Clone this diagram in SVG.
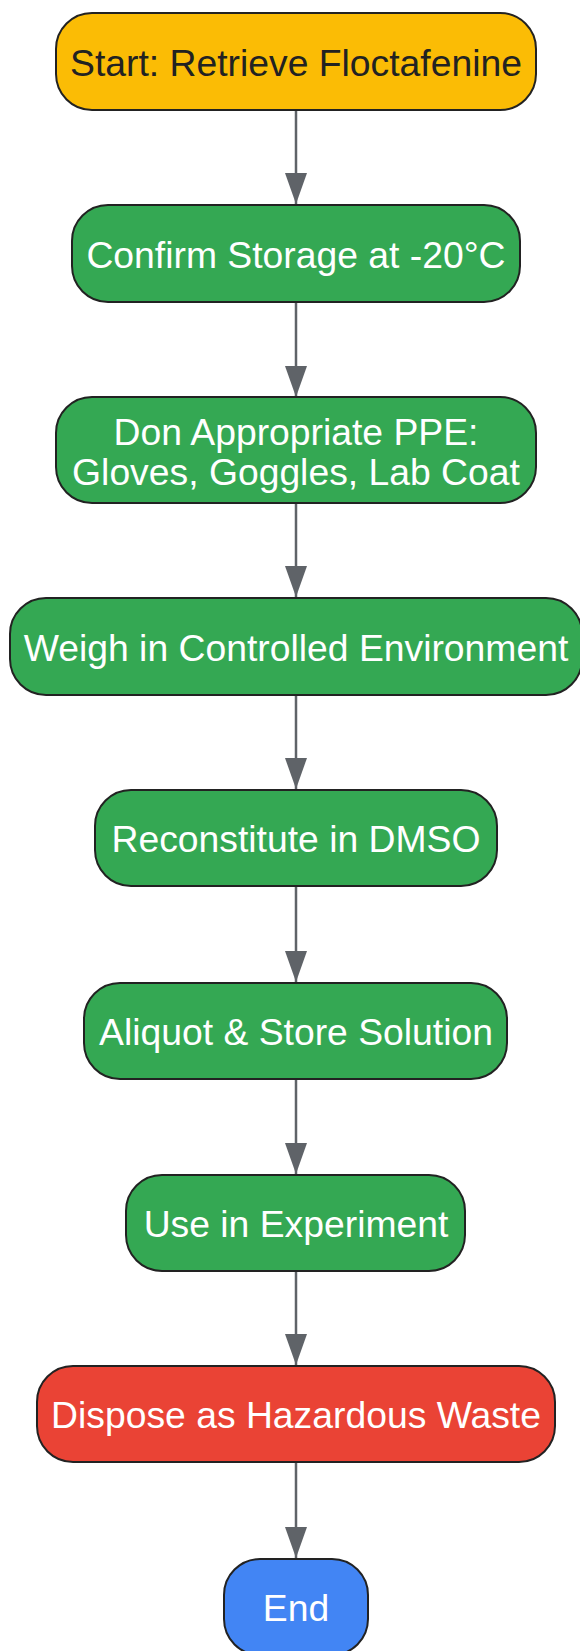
<svg xmlns="http://www.w3.org/2000/svg" width="580" height="1651" viewBox="0 0 580 1651">
<defs>
<style>
.n{stroke:#222222;stroke-width:2}
.t{font-family:"Liberation Sans",Arial,sans-serif;font-size:37.3px;text-anchor:middle;fill:#ffffff}
.dk{fill:#222222}
.e{stroke:#5f6368;stroke-width:2.5;fill:none}
</style>
<marker id="ah" markerWidth="31" markerHeight="22" refX="31" refY="11" orient="auto" markerUnits="userSpaceOnUse" viewBox="0 0 31 22">
<path d="M0,0 L31,11 L0,22 Z" fill="#5f6368"/>
</marker>
</defs>
<rect width="580" height="1651" fill="#ffffff"/>
<g id="connectors">
<line class="e" x1="296" y1="110" x2="296" y2="204" marker-end="url(#ah)"/>
<line class="e" x1="296" y1="302" x2="296" y2="397" marker-end="url(#ah)"/>
<line class="e" x1="296" y1="503" x2="296" y2="597" marker-end="url(#ah)"/>
<line class="e" x1="296" y1="695" x2="296" y2="789" marker-end="url(#ah)"/>
<line class="e" x1="296" y1="886" x2="296" y2="982" marker-end="url(#ah)"/>
<line class="e" x1="296" y1="1079" x2="296" y2="1174" marker-end="url(#ah)"/>
<line class="e" x1="296" y1="1271" x2="296" y2="1365" marker-end="url(#ah)"/>
<line class="e" x1="296" y1="1462" x2="296" y2="1558" marker-end="url(#ah)"/>
</g>
<g id="start">
<rect class="n" x="56" y="13" width="480" height="97" rx="36" fill="#fbbc05"/>
<text class="t dk" x="296" y="76">Start: Retrieve Floctafenine</text>
</g>
<g id="confirm">
<rect class="n" x="72" y="205" width="448" height="97" rx="36" fill="#34a853"/>
<text class="t" x="296" y="268">Confirm Storage at -20°C</text>
</g>
<g id="ppe">
<rect class="n" x="56" y="397" width="480" height="106" rx="36" fill="#34a853"/>
<text class="t" x="296" y="445">Don Appropriate PPE:</text>
<text class="t" x="296" y="485">Gloves, Goggles, Lab Coat</text>
</g>
<g id="weigh">
<rect class="n" x="10" y="598" width="572" height="97" rx="36" fill="#34a853"/>
<text class="t" x="296" y="661">Weigh in Controlled Environment</text>
</g>
<g id="reconstitute">
<rect class="n" x="95" y="790" width="402" height="96" rx="36" fill="#34a853"/>
<text class="t" x="296" y="852">Reconstitute in DMSO</text>
</g>
<g id="aliquot">
<rect class="n" x="84" y="983" width="423" height="96" rx="36" fill="#34a853"/>
<text class="t" x="296" y="1045">Aliquot &amp; Store Solution</text>
</g>
<g id="use">
<rect class="n" x="126" y="1175" width="339" height="96" rx="36" fill="#34a853"/>
<text class="t" x="296" y="1237">Use in Experiment</text>
</g>
<g id="dispose">
<rect class="n" x="37" y="1366" width="518" height="96" rx="36" fill="#ea4335"/>
<text class="t" x="296" y="1428">Dispose as Hazardous Waste</text>
</g>
<g id="end">
<rect class="n" x="224" y="1559" width="144" height="96" rx="36" fill="#4285f4"/>
<text class="t" x="296" y="1621">End</text>
</g>
</svg>
